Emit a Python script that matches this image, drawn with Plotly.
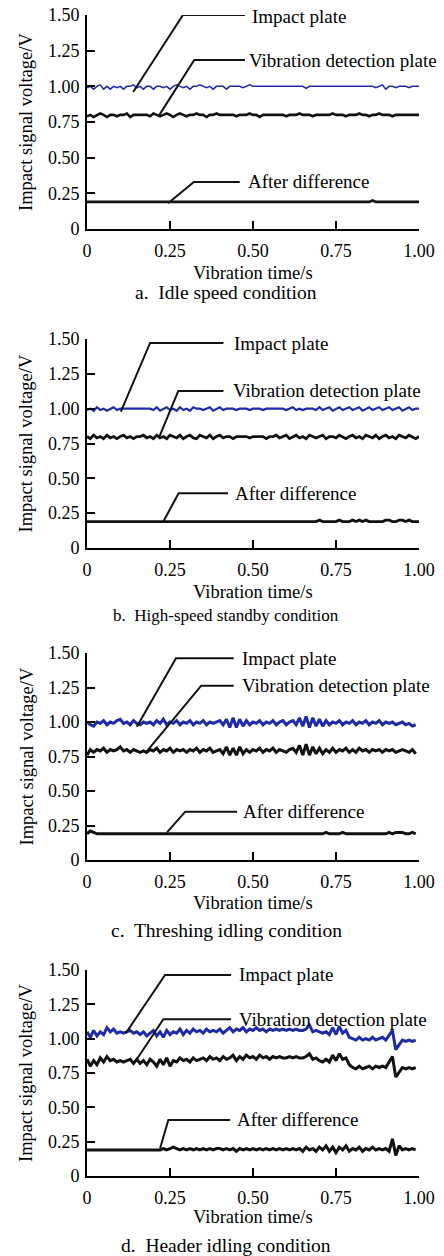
import numpy as np
import plotly.graph_objects as go

# ---------------- data ----------------
# sampling grids of the recorded signals (s)
time_ab = np.round(np.arange(0, 101) * 0.01, 2)   # 0.00 ... 1.00
time_cd = np.round(np.arange(0, 100) * 0.01, 2)   # 0.00 ... 0.99

x_tickvals = [0, 0.25, 0.5, 0.75, 1.0]
x_ticktext = ["0", "0.25", "0.50", "0.75", "1.00"]
y_tickvals = [0, 0.25, 0.5, 0.75, 1.0, 1.25, 1.5]
y_ticktext = ["0", "0.25", "0.50", "0.75", "1.00", "1.25", "1.50"]

series_names = ["Impact plate", "Vibration detection plate", "After difference"]
captions = ["a.\u00a0 Idle speed condition", "b.\u00a0 High-speed standby condition",
            "c.\u00a0 Threshing idling condition", "d.\u00a0 Header idling condition"]

# a. Idle speed condition
a_impact = [0.99, 1.00, 0.98, 1.00, 1.01, 0.98, 1.00, 0.98, 1.00, 0.99,
            1.00, 0.98, 1.00, 1.00, 1.01, 0.99, 1.00, 0.98, 1.00, 1.00,
            0.98, 1.00, 1.00, 0.99, 1.00, 0.98, 1.00, 1.01, 1.00, 0.99,
            1.00, 0.98, 1.00, 1.00, 1.01, 1.00, 0.99, 1.00, 0.98, 1.00,
            1.00, 1.00, 0.98, 1.00, 1.00, 1.00, 1.00, 0.99, 1.00, 1.01,
            1.00, 1.00, 1.00, 1.00, 1.00, 1.00, 1.00, 1.00, 1.00, 1.00,
            1.00, 1.00, 1.00, 1.00, 1.00, 1.00, 0.985, 1.00, 1.00, 1.00,
            1.00, 1.00, 1.00, 1.00, 1.00, 1.00, 1.00, 1.00, 1.00, 1.00,
            1.00, 1.00, 1.00, 1.00, 1.00, 1.00, 1.00, 0.99, 1.00, 1.01,
            0.98, 1.00, 1.00, 0.99, 1.00, 1.00, 1.00, 0.99, 1.00, 1.00,
            1.00]
a_vibration = [0.79, 0.80, 0.785, 0.80, 0.81, 0.80, 0.785, 0.80, 0.80, 0.79,
               0.80, 0.80, 0.81, 0.785, 0.80, 0.80, 0.80, 0.80, 0.80, 0.79,
               0.81, 0.80, 0.79, 0.80, 0.81, 0.80, 0.785, 0.80, 0.81, 0.80,
               0.79, 0.80, 0.80, 0.81, 0.80, 0.80, 0.785, 0.80, 0.80, 0.81,
               0.80, 0.80, 0.80, 0.80, 0.80, 0.79, 0.80, 0.80, 0.80, 0.81,
               0.80, 0.80, 0.785, 0.80, 0.80, 0.80, 0.80, 0.80, 0.80, 0.80,
               0.79, 0.80, 0.80, 0.80, 0.81, 0.80, 0.80, 0.80, 0.79, 0.80,
               0.80, 0.80, 0.80, 0.80, 0.81, 0.80, 0.80, 0.80, 0.79, 0.80,
               0.80, 0.80, 0.81, 0.80, 0.80, 0.79, 0.80, 0.80, 0.81, 0.80,
               0.80, 0.80, 0.79, 0.80, 0.80, 0.80, 0.80, 0.80, 0.80, 0.80,
               0.80]
a_diff = [0.19, 0.19, 0.19, 0.19, 0.19, 0.19, 0.19, 0.19, 0.19, 0.19,
          0.19, 0.19, 0.19, 0.19, 0.19, 0.19, 0.19, 0.19, 0.19, 0.19,
          0.19, 0.19, 0.19, 0.19, 0.19, 0.19, 0.19, 0.19, 0.19, 0.19,
          0.19, 0.19, 0.19, 0.19, 0.19, 0.19, 0.19, 0.19, 0.19, 0.19,
          0.19, 0.19, 0.19, 0.19, 0.19, 0.19, 0.19, 0.19, 0.19, 0.19,
          0.19, 0.19, 0.19, 0.19, 0.19, 0.19, 0.19, 0.19, 0.19, 0.19,
          0.19, 0.19, 0.19, 0.19, 0.19, 0.19, 0.19, 0.19, 0.19, 0.19,
          0.19, 0.19, 0.19, 0.19, 0.19, 0.19, 0.19, 0.19, 0.19, 0.19,
          0.19, 0.19, 0.19, 0.19, 0.19, 0.19, 0.20, 0.19, 0.19, 0.19,
          0.19, 0.19, 0.19, 0.19, 0.19, 0.19, 0.19, 0.19, 0.19, 0.19,
          0.19]

# b. High-speed standby condition
b_impact = [0.99, 1.00, 0.985, 1.01, 0.99, 1.00, 0.985, 1.00, 1.01, 0.99,
            1.00, 1.00, 1.00, 1.00, 1.00, 1.00, 1.00, 1.00, 1.00, 1.00,
            0.99, 1.01, 0.985, 1.00, 1.01, 0.99, 1.00, 0.985, 1.01, 0.99,
            1.00, 0.985, 1.01, 1.00, 1.00, 0.99, 1.00, 1.01, 0.985, 1.00,
            1.01, 0.99, 1.00, 1.00, 1.00, 0.99, 1.00, 1.00, 1.00, 0.99,
            1.00, 1.00, 1.00, 0.99, 1.00, 1.00, 1.00, 1.00, 1.00, 1.00,
            0.99, 1.00, 1.01, 0.99, 1.00, 0.99, 1.00, 1.00, 1.00, 0.99,
            1.01, 0.99, 1.00, 1.01, 0.985, 1.00, 1.01, 0.99, 1.00, 1.01,
            0.99, 1.00, 1.01, 0.985, 1.00, 1.01, 0.99, 1.00, 1.01, 0.99,
            1.00, 1.01, 0.99, 1.00, 1.01, 0.985, 1.00, 1.01, 0.99, 1.00,
            1.00]
b_vibration = [0.80, 0.785, 0.81, 0.79, 0.80, 0.785, 0.81, 0.79, 0.80, 0.785,
               0.80, 0.81, 0.79, 0.80, 0.785, 0.80, 0.80, 0.81, 0.79, 0.80,
               0.785, 0.81, 0.79, 0.80, 0.785, 0.81, 0.80, 0.79, 0.81, 0.785,
               0.80, 0.81, 0.79, 0.785, 0.81, 0.80, 0.79, 0.81, 0.785, 0.80,
               0.81, 0.79, 0.80, 0.80, 0.785, 0.80, 0.80, 0.80, 0.80, 0.79,
               0.80, 0.80, 0.80, 0.80, 0.785, 0.80, 0.80, 0.81, 0.79, 0.80,
               0.81, 0.785, 0.80, 0.81, 0.79, 0.80, 0.785, 0.81, 0.80, 0.79,
               0.80, 0.81, 0.785, 0.80, 0.80, 0.79, 0.81, 0.80, 0.785, 0.80,
               0.81, 0.79, 0.80, 0.785, 0.81, 0.80, 0.79, 0.81, 0.785, 0.80,
               0.81, 0.79, 0.80, 0.785, 0.81, 0.80, 0.79, 0.81, 0.80, 0.785,
               0.80]
b_diff = [0.19, 0.19, 0.19, 0.19, 0.19, 0.19, 0.19, 0.19, 0.19, 0.19,
          0.19, 0.19, 0.19, 0.19, 0.19, 0.19, 0.19, 0.19, 0.19, 0.19,
          0.19, 0.19, 0.19, 0.19, 0.19, 0.19, 0.19, 0.19, 0.19, 0.19,
          0.19, 0.19, 0.19, 0.19, 0.19, 0.19, 0.19, 0.19, 0.19, 0.19,
          0.19, 0.19, 0.19, 0.19, 0.19, 0.19, 0.19, 0.19, 0.19, 0.19,
          0.19, 0.19, 0.19, 0.19, 0.19, 0.19, 0.19, 0.19, 0.19, 0.19,
          0.19, 0.19, 0.19, 0.19, 0.19, 0.19, 0.19, 0.19, 0.19, 0.19,
          0.20, 0.19, 0.19, 0.19, 0.19, 0.19, 0.20, 0.19, 0.19, 0.19,
          0.20, 0.19, 0.20, 0.19, 0.20, 0.19, 0.19, 0.19, 0.19, 0.19,
          0.20, 0.20, 0.19, 0.19, 0.20, 0.20, 0.19, 0.20, 0.19, 0.19,
          0.19]

# c. Threshing idling condition
c_impact = [1.00, 0.98, 0.97, 1.00, 0.99, 1.01, 0.98, 1.00, 0.99, 1.01,
            1.02, 0.99, 1.00, 0.98, 1.01, 0.99, 0.98, 1.00, 0.99, 1.00,
            0.98, 1.01, 0.99, 1.02, 0.98, 1.00, 0.99, 1.01, 0.98, 1.00,
            0.99, 1.01, 0.98, 1.00, 0.99, 1.01, 0.98, 1.00, 0.99, 1.00,
            1.01, 0.98, 1.02, 0.96, 1.03, 0.96, 1.02, 0.97, 1.01, 0.98,
            1.00, 0.99, 1.01, 0.98, 1.00, 0.99, 1.01, 0.98, 1.00, 1.01,
            0.98, 1.00, 1.01, 0.98, 1.03, 0.97, 1.04, 0.96, 1.03, 0.97,
            1.02, 0.97, 1.01, 0.98, 1.00, 0.99, 1.01, 0.98, 1.00, 0.99,
            1.01, 0.98, 1.00, 0.99, 1.01, 0.98, 1.00, 0.99, 1.01, 0.98,
            1.00, 0.99, 1.00, 0.98, 0.99, 1.00, 0.98, 0.99, 0.97, 0.98]
c_vibration = [0.76, 0.80, 0.78, 0.80, 0.79, 0.81, 0.78, 0.80, 0.79, 0.80,
               0.82, 0.79, 0.80, 0.78, 0.80, 0.79, 0.78, 0.79, 0.78, 0.80,
               0.79, 0.81, 0.78, 0.80, 0.79, 0.81, 0.78, 0.80, 0.79, 0.80,
               0.78, 0.80, 0.79, 0.81, 0.78, 0.80, 0.79, 0.81, 0.78, 0.79,
               0.80, 0.77, 0.82, 0.76, 0.81, 0.76, 0.82, 0.77, 0.80, 0.78,
               0.80, 0.79, 0.81, 0.78, 0.80, 0.79, 0.81, 0.78, 0.80, 0.79,
               0.78, 0.80, 0.81, 0.78, 0.83, 0.76, 0.84, 0.76, 0.82, 0.77,
               0.81, 0.77, 0.80, 0.78, 0.81, 0.78, 0.80, 0.79, 0.81, 0.78,
               0.80, 0.78, 0.81, 0.79, 0.80, 0.78, 0.80, 0.79, 0.80, 0.78,
               0.80, 0.79, 0.80, 0.78, 0.79, 0.80, 0.79, 0.78, 0.80, 0.77]
c_diff = [0.19, 0.21, 0.20, 0.19, 0.19, 0.19, 0.19, 0.19, 0.19, 0.19,
          0.19, 0.19, 0.19, 0.19, 0.19, 0.19, 0.19, 0.19, 0.19, 0.19,
          0.19, 0.19, 0.19, 0.19, 0.19, 0.19, 0.19, 0.19, 0.19, 0.19,
          0.19, 0.19, 0.19, 0.19, 0.19, 0.19, 0.19, 0.19, 0.19, 0.19,
          0.19, 0.19, 0.19, 0.19, 0.19, 0.19, 0.19, 0.19, 0.19, 0.19,
          0.19, 0.19, 0.19, 0.19, 0.19, 0.19, 0.19, 0.19, 0.19, 0.19,
          0.19, 0.19, 0.19, 0.19, 0.19, 0.19, 0.19, 0.19, 0.19, 0.19,
          0.19, 0.19, 0.20, 0.19, 0.19, 0.19, 0.19, 0.20, 0.19, 0.19,
          0.19, 0.19, 0.19, 0.19, 0.19, 0.19, 0.19, 0.19, 0.19, 0.19,
          0.19, 0.20, 0.19, 0.20, 0.20, 0.20, 0.19, 0.19, 0.20, 0.19]

# d. Header idling condition
d_impact = [1.05, 1.01, 1.06, 1.02, 1.05, 1.03, 1.08, 1.05, 1.07, 1.04,
            1.05, 1.04, 1.05, 1.06, 1.04, 1.05, 1.03, 1.05, 1.02, 1.04,
            1.06, 1.02, 1.05, 1.01, 1.06, 1.03, 1.05, 1.04, 1.07, 1.03,
            1.06, 1.04, 1.07, 1.05, 1.06, 1.04, 1.07, 1.05, 1.06, 1.05,
            1.07, 1.04, 1.06, 1.08, 1.05, 1.07, 1.06, 1.08, 1.05, 1.07,
            1.06, 1.08, 1.06, 1.07, 1.05, 1.07, 1.06, 1.07, 1.06, 1.07,
            1.06, 1.07, 1.06, 1.07, 1.06, 1.06, 1.07, 1.10, 1.05, 1.06,
            1.05, 1.04, 1.05, 1.03, 1.08, 1.03, 1.09, 1.04, 1.06, 1.01,
            1.00, 0.99, 1.01, 0.99, 1.00, 0.99, 1.01, 0.99, 1.00, 1.01,
            0.99, 1.03, 1.06, 0.92, 0.96, 0.99, 0.98, 0.99, 0.98, 0.99]
d_vibration = [0.85, 0.80, 0.84, 0.81, 0.86, 0.83, 0.87, 0.84, 0.85, 0.83,
               0.84, 0.83, 0.84, 0.85, 0.82, 0.85, 0.82, 0.84, 0.81, 0.85,
               0.83, 0.80, 0.85, 0.81, 0.86, 0.80, 0.84, 0.83, 0.86, 0.84,
               0.85, 0.83, 0.86, 0.84, 0.85, 0.86, 0.84, 0.87, 0.85, 0.86,
               0.84, 0.87, 0.85, 0.86, 0.88, 0.84, 0.87, 0.85, 0.88, 0.86,
               0.87, 0.85, 0.88, 0.86, 0.87, 0.85, 0.87, 0.86, 0.87, 0.86,
               0.86, 0.87, 0.86, 0.87, 0.86, 0.86, 0.87, 0.89, 0.85, 0.86,
               0.84, 0.83, 0.85, 0.83, 0.88, 0.84, 0.89, 0.85, 0.86, 0.81,
               0.79, 0.78, 0.80, 0.78, 0.79, 0.80, 0.78, 0.80, 0.79, 0.80,
               0.79, 0.83, 0.87, 0.72, 0.76, 0.79, 0.78, 0.79, 0.78, 0.79]
d_diff = [0.19, 0.19, 0.19, 0.19, 0.19, 0.19, 0.19, 0.19, 0.19, 0.19,
          0.19, 0.19, 0.19, 0.19, 0.19, 0.19, 0.19, 0.19, 0.19, 0.19,
          0.19, 0.19, 0.19, 0.20, 0.19, 0.20, 0.21, 0.20, 0.19, 0.20,
          0.19, 0.20, 0.19, 0.20, 0.19, 0.20, 0.19, 0.20, 0.19, 0.20,
          0.20, 0.19, 0.20, 0.19, 0.20, 0.18, 0.20, 0.19, 0.20, 0.19,
          0.20, 0.19, 0.20, 0.19, 0.20, 0.19, 0.20, 0.19, 0.20, 0.19,
          0.20, 0.19, 0.20, 0.19, 0.20, 0.18, 0.21, 0.19, 0.20, 0.18,
          0.21, 0.19, 0.22, 0.18, 0.21, 0.17, 0.21, 0.19, 0.22, 0.18,
          0.20, 0.19, 0.21, 0.18, 0.20, 0.19, 0.21, 0.19, 0.20, 0.19,
          0.20, 0.18, 0.27, 0.15, 0.22, 0.19, 0.20, 0.19, 0.20, 0.19]

panels = [
    (time_ab, a_impact, a_vibration, a_diff),
    (time_ab, b_impact, b_vibration, b_diff),
    (time_cd, c_impact, c_vibration, c_diff),
    (time_cd, d_impact, d_vibration, d_diff),
]

# ---------------- layout / style ----------------
W, H = 444, 1256
FONT = "Liberation Serif, Times New Roman, serif"
BLUE = "#1e2aa6"
BLACK = "#111111"

x_left_px, x_right_px = 87, 419
y_px = [(15, 229), (339, 548), (653, 860), (970, 1176)]   # (top=1.50, bottom=0)
xtitle_py = [273, 592, 903, 1217]
caption_py = [293, 615, 930, 1245]
caption_size = [19.5, 17, 19.5, 19.5]
blue_width = [1.5, 2.2, 3.0, 3.0]
black_width = [2.6, 2.8, 3.0, 3.0]

# leader lines (data coords of each panel): [points], text anchor
callouts = [
    [([(0.139, 0.96), (0.289, 1.50), (0.476, 1.50)], (0.49, 1.49)),
     ([(0.218, 0.80), (0.323, 1.184), (0.476, 1.184)], (0.482, 1.18)),
     ([(0.244, 0.18), (0.322, 0.33), (0.46, 0.33)], (0.478, 0.33))],
    [([(0.102, 0.978), (0.19, 1.472), (0.411, 1.472)], (0.438, 1.47)),
     ([(0.218, 0.80), (0.275, 1.127), (0.411, 1.127)], (0.435, 1.127)),
     ([(0.23, 0.19), (0.276, 0.393), (0.425, 0.393)], (0.441, 0.393))],
    [([(0.15, 0.966), (0.268, 1.462), (0.442, 1.462)], (0.46, 1.462)),
     ([(0.175, 0.773), (0.344, 1.263), (0.442, 1.263)], (0.462, 1.263)),
     ([(0.241, 0.20), (0.296, 0.35), (0.452, 0.35)], (0.465, 0.35))],
    [([(0.117, 1.04), (0.235, 1.464), (0.434, 1.464)], (0.451, 1.464)),
     ([(0.145, 0.832), (0.23, 1.141), (0.434, 1.141)], (0.453, 1.141)),
     ([(0.22, 0.20), (0.245, 0.408), (0.431, 0.408)], (0.446, 0.408))],
]

fig = go.Figure()
annotations = []
layout_axes = {}

for i, (t, imp, vib, dif) in enumerate(panels):
    n = "" if i == 0 else str(i + 1)
    xr, yr = "x" + n, "y" + n
    top, bot = y_px[i]
    layout_axes["xaxis" + n] = dict(
        domain=[x_left_px / W, x_right_px / W], range=[0, 1.0], anchor=yr,
        tickvals=x_tickvals, ticktext=x_ticktext, ticks="inside", ticklen=8,
        tickwidth=2, tickcolor="black", showline=True, linewidth=2,
        linecolor="black", showgrid=False, zeroline=False, automargin=False,
        ticklabelstandoff=4,
        tickfont=dict(family=FONT, size=18, color="black"), fixedrange=True,
    )
    layout_axes["yaxis" + n] = dict(
        domain=[1 - bot / H, 1 - top / H], range=[0, 1.5], anchor=xr,
        tickvals=y_tickvals, ticktext=y_ticktext, ticks="inside", ticklen=8,
        tickwidth=2, tickcolor="black", showline=True, linewidth=2,
        linecolor="black", showgrid=False, zeroline=False, automargin=False,
        ticklabelstandoff=2,
        tickfont=dict(family=FONT, size=18, color="black"), fixedrange=True,
    )
    fig.add_trace(go.Scatter(x=t, y=dif, mode="lines", name=series_names[2],
                             line=dict(color=BLACK, width=black_width[i]), xaxis=xr,
                             yaxis=yr, showlegend=False))
    fig.add_trace(go.Scatter(x=t, y=vib, mode="lines", name=series_names[1],
                             line=dict(color=BLACK, width=black_width[i]), xaxis=xr,
                             yaxis=yr, showlegend=False))
    fig.add_trace(go.Scatter(x=t, y=imp, mode="lines", name=series_names[0],
                             line=dict(color=BLUE, width=blue_width[i]), xaxis=xr,
                             yaxis=yr, showlegend=False))
    # callouts
    for k, (pts, (tx, ty)) in enumerate(callouts[i]):
        fig.add_trace(go.Scatter(x=[p[0] for p in pts], y=[p[1] for p in pts],
                                 mode="lines", line=dict(color=BLACK, width=2),
                                 xaxis=xr, yaxis=yr, showlegend=False,
                                 hoverinfo="skip", cliponaxis=False))
        annotations.append(dict(x=tx, y=ty, xref=xr, yref=yr, text=series_names[k],
                                showarrow=False, xanchor="left", yanchor="middle",
                                font=dict(family=FONT, size=19, color="black")))
    # axis titles and caption
    annotations.append(dict(x=26 / W, y=1 - (top + bot) / 2 / H, xref="paper", yref="paper",
                            text="Impact signal voltage/V", textangle=-90, showarrow=False,
                            xanchor="center", yanchor="middle",
                            font=dict(family=FONT, size=18.5, color="black")))
    annotations.append(dict(x=(x_left_px + x_right_px) / 2 / W, y=1 - xtitle_py[i] / H,
                            xref="paper", yref="paper", text="Vibration time/s",
                            showarrow=False, xanchor="center", yanchor="middle",
                            font=dict(family=FONT, size=18.5, color="black")))
    annotations.append(dict(x=226 / W, y=1 - caption_py[i] / H, xref="paper", yref="paper",
                            text=captions[i], showarrow=False, xanchor="center",
                            yanchor="middle",
                            font=dict(family=FONT, size=caption_size[i], color="black")))

fig.update_layout(
    width=W, height=H, margin=dict(l=0, r=0, t=0, b=0, autoexpand=False),
    paper_bgcolor="white", plot_bgcolor="white", showlegend=False,
    annotations=annotations, font=dict(family=FONT, color="black"),
    **layout_axes,
)

fig.write_html("out.html", config={"displayModeBar": False})
